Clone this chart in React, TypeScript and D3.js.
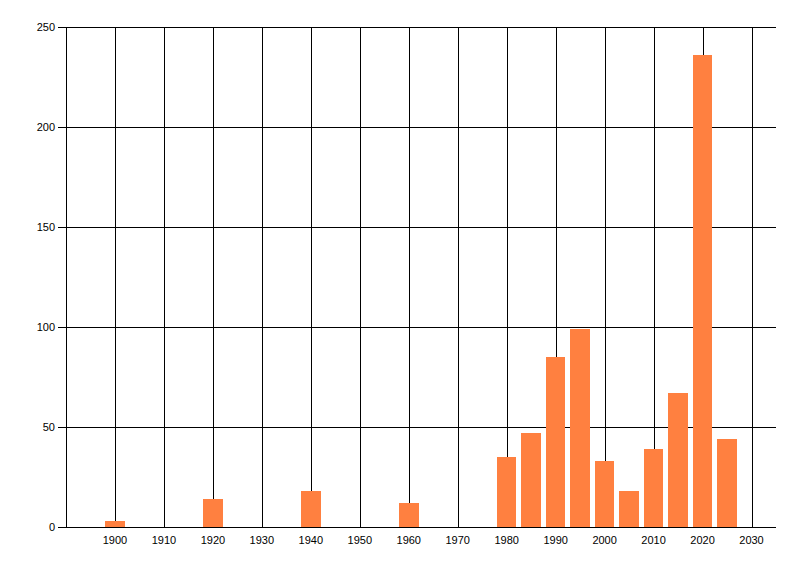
import { useEffect, useRef } from "react";
import * as d3 from "d3";

const years = [1900, 1920, 1940, 1960, 1980, 1985, 1990, 1995, 2000, 2005, 2010, 2015, 2020, 2025];
const counts = [3, 14, 18, 12, 35, 47, 85, 99, 33, 18, 39, 67, 236, 44];
const xTicks = [1900, 1910, 1920, 1930, 1940, 1950, 1960, 1970, 1980, 1990, 2000, 2010, 2020, 2030];
const yTicks = [0, 50, 100, 150, 200, 250];

export default function App() {
  const ref = useRef<SVGSVGElement>(null);

  useEffect(() => {
    const svg = d3.select(ref.current);
    svg.selectAll("*").remove();

    const width = 800;
    const height = 576;
    const margin = { top: 27, right: 24, bottom: 49, left: 66 };

    const x = d3
      .scaleLinear()
      .domain([1890, 2035])
      .range([margin.left, width - margin.right]);

    const y = d3
      .scaleLinear()
      .domain([0, 250])
      .range([height - margin.bottom, margin.top]);

    const barW = x(1904) - x(1900);

    // vertical grid
    svg
      .append("g")
      .selectAll("line")
      .data(xTicks)
      .join("line")
      .attr("x1", (d) => Math.round(x(d)) + 0.5)
      .attr("x2", (d) => Math.round(x(d)) + 0.5)
      .attr("y1", y(250))
      .attr("y2", y(0))
      .attr("stroke", "#000")
      .attr("shape-rendering", "crispEdges");

    // horizontal grid
    svg
      .append("g")
      .selectAll("line")
      .data(yTicks)
      .join("line")
      .attr("x1", margin.left - 8)
      .attr("x2", width - margin.right)
      .attr("y1", (d) => Math.round(y(d)) + 0.5)
      .attr("y2", (d) => Math.round(y(d)) + 0.5)
      .attr("stroke", "#000")
      .attr("shape-rendering", "crispEdges");

    svg
      .append("g")
      .attr("fill", "#ff8040")
      .selectAll("rect")
      .data(years)
      .join("rect")
      .attr("x", (d) => x(d) - barW / 2)
      .attr("width", barW)
      .attr("y", (_, i) => y(counts[i]))
      .attr("height", (_, i) => y(0) - y(counts[i]))
      .attr("shape-rendering", "crispEdges");

    // y axis line
    svg
      .append("line")
      .attr("x1", margin.left + 0.5)
      .attr("x2", margin.left + 0.5)
      .attr("y1", y(250))
      .attr("y2", y(0) + 1)
      .attr("stroke", "#000")
      .attr("shape-rendering", "crispEdges");

    svg
      .append("g")
      .selectAll("text")
      .data(yTicks)
      .join("text")
      .attr("x", margin.left - 11)
      .attr("y", (d) => y(d))
      .attr("dy", "0.35em")
      .attr("text-anchor", "end")
      .text((d) => d);

    svg
      .append("g")
      .selectAll("text")
      .data(xTicks)
      .join("text")
      .attr("x", (d) => x(d))
      .attr("y", y(0) + 17)
      .attr("text-anchor", "middle")
      .text((d) => d);
  }, []);

  return (
    <div style={{ position: "fixed", left: 0, top: 0, width: 800, height: 576, background: "#fff" }}>
      <svg
        ref={ref}
        width={800}
        height={576}
        style={{ fontFamily: "'Liberation Sans', Arial, sans-serif", fontSize: 11, fill: "#000" }}
      ></svg>
    </div>
  );
}
